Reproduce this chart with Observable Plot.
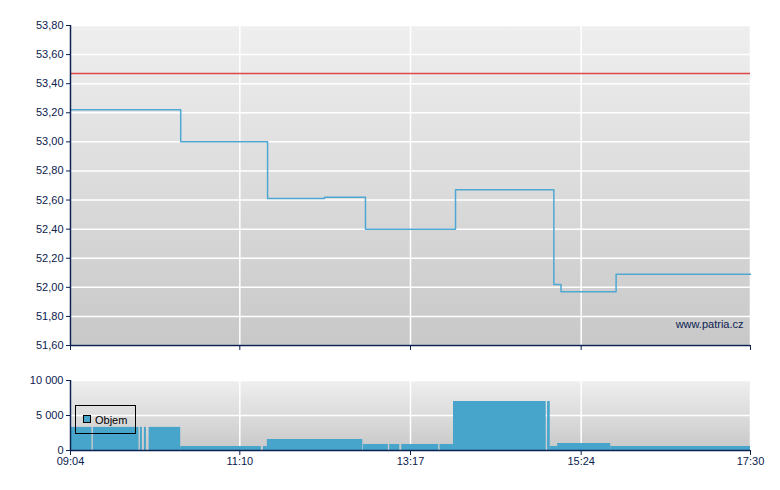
<!DOCTYPE html>
<html><head><meta charset="utf-8">
<script src="https://cdn.jsdelivr.net/npm/d3@7"></script>
<script src="https://cdn.jsdelivr.net/npm/@observablehq/plot@0.6"></script>
<style>
body{margin:0;background:#fff;font-family:"Liberation Sans",Arial,sans-serif;}
#wrap{position:relative;width:780px;height:490px;}
#top,#bot{position:absolute;left:0;}
#top{top:0}#bot{top:350px}
</style></head><body><div id="wrap"><div id="top"></div><div id="bot"></div></div>
<script>
// ---- data ----
const day = "2024-01-01T";
const xTickLabels = ["09:04","11:10","13:17","15:24","17:30"];
const priceTimes  = ["09:04:00","10:26:00","11:30:40","12:13:00","12:43:30","13:50:30","15:03:40","15:09:00","15:50:00","17:30:00"];
const priceValues = [53.22, 53.00, 52.61, 52.62, 52.40, 52.67, 52.02, 51.97, 52.09, 52.09];
const prevClose = 53.47;
const priceTicks = [51.6, 51.8, 52.0, 52.2, 52.4, 52.6, 52.8, 53.0, 53.2, 53.4, 53.6, 53.8];
const volStart  = ["09:04:00","09:21:00","09:56:00","09:59:00","10:02:30","10:26:00","11:27:30","11:30:30","12:42:00","13:01:30","13:10:30","13:39:00","13:49:00","14:59:00","15:01:00","15:06:30","15:46:00"];
const volEnd    = ["09:20:00","09:55:00","09:57:30","10:00:30","10:26:00","11:26:00","11:30:30","12:41:30","13:00:30","13:09:00","13:38:00","13:49:00","14:58:00","15:01:00","15:06:30","15:46:00","17:30:00"];
const volValues = [3300, 3300, 3300, 3300, 3300, 570, 570, 1570, 860, 860, 860, 860, 7000, 7000, 570, 1000, 570];
const volTicks = [0, 5000, 10000];
const legendLabel = "Objem";
const watermark = "www.patria.cz";

// ---- helpers ----
const T = s => new Date(day + (s.length === 5 ? s + ":00" : s));
const xTicks = xTickLabels.map(T);
const xDomain = [xTicks[0], xTicks[xTicks.length - 1]];
const priceRows = priceTimes.map((t, i) => ({t: T(t), v: priceValues[i]}));
const volRows = volStart.map((t, i) => ({t1: T(t), t2: T(volEnd[i]), v: volValues[i]}));
const navy = "#0b2150";
const fmtPrice = d => d.toFixed(2).replace(".", ",");
const fmtVol = d => d3.format(",")(d).replace(/,/g, " ");
const style = {fontFamily: "'Liberation Sans', Arial, sans-serif", fontSize: "11px", color: navy, background: "transparent", overflow: "visible"};

function addGradient(svg, id) {
  const g = d3.select(svg).insert("defs", ":first-child").append("linearGradient")
    .attr("id", id).attr("x1", 0).attr("y1", 0).attr("x2", 0).attr("y2", 1);
  g.append("stop").attr("offset", "0%").attr("stop-color", "#efefef");
  g.append("stop").attr("offset", "100%").attr("stop-color", "#c8c8c8");
}

const topChart = Plot.plot({
  width: 780, height: 350, marginLeft: 70, marginRight: 30, marginTop: 25, marginBottom: 5,
  style,
  x: {type: "time", domain: xDomain, axis: null},
  y: {domain: [51.6, 53.8], axis: null, label: null},
  marks: [
    Plot.frame({fill: "url(#gTop)", stroke: "none"}),
    Plot.gridY(priceTicks, {stroke: "white", strokeOpacity: 1, strokeWidth: 1.5}),
    Plot.gridX(xTicks, {stroke: "white", strokeOpacity: 1, strokeWidth: 1.5}),
    Plot.ruleY([prevClose], {stroke: "#e04848", strokeWidth: 1.5}),
    Plot.lineY(priceRows, {x: "t", y: "v", curve: "step-after", stroke: "#4ea8d2", strokeWidth: 1.5}),
    Plot.axisY(priceTicks, {tickFormat: fmtPrice, tickSize: 4, tickPadding: 3, label: null, stroke: navy, fill: navy}),
    Plot.axisX(xTicks, {tickFormat: () => "", tickSize: 5, label: null, stroke: navy}),
    Plot.ruleX([xDomain[0]], {stroke: navy, strokeWidth: 1.5}),
    Plot.ruleY([51.6], {stroke: navy, strokeWidth: 1.5}),
    Plot.text([watermark], {text: d => d, frameAnchor: "bottom-right", dx: -7, dy: -18, fill: navy, textAnchor: "end", fontSize: 11})
  ]
});
addGradient(topChart, "gTop");
document.getElementById("top").append(topChart);

const botChart = Plot.plot({
  width: 780, height: 140, marginLeft: 70, marginRight: 30, marginTop: 30, marginBottom: 40,
  style,
  x: {type: "time", domain: xDomain, axis: null},
  y: {domain: [0, 10000], axis: null, label: null},
  marks: [
    Plot.frame({fill: "url(#gBot)", stroke: "none"}),
    Plot.gridY(volTicks, {stroke: "white", strokeOpacity: 1, strokeWidth: 1.5}),
    Plot.gridX(xTicks, {stroke: "white", strokeOpacity: 1, strokeWidth: 1.5}),
    Plot.rectY(volRows, {x1: "t1", x2: "t2", y: "v", fill: "#47a5cc"}),
    Plot.axisY(volTicks, {tickFormat: fmtVol, tickSize: 4, tickPadding: 3, label: null, stroke: navy, fill: navy}),
    Plot.axisX(xTicks, {tickFormat: (d, i) => xTickLabels[i], tickSize: 5, tickPadding: 2, label: null, stroke: navy, fill: navy}),
    Plot.ruleX([xDomain[0]], {stroke: navy, strokeWidth: 1.5}),
    Plot.ruleY([0], {stroke: navy, strokeWidth: 1.5})
  ]
});
addGradient(botChart, "gBot");
// legend box
const lg = d3.select(botChart).append("g")
  .attr("font-family", "'Liberation Sans', Arial, sans-serif").attr("font-size", 11).attr("text-anchor", "start");
lg.append("rect").attr("x", 75.5).attr("y", 55.5).attr("width", 60).attr("height", 28).attr("fill", "none").attr("stroke", "#000");
lg.append("rect").attr("x", 83.5).attr("y", 65.5).attr("width", 7).attr("height", 7).attr("fill", "#47a5cc").attr("stroke", "#000");
lg.append("text").attr("x", 95).attr("y", 73.5).attr("fill", "#000").attr("text-anchor", "start").text(legendLabel);
document.getElementById("bot").append(botChart);
</script></body></html>
